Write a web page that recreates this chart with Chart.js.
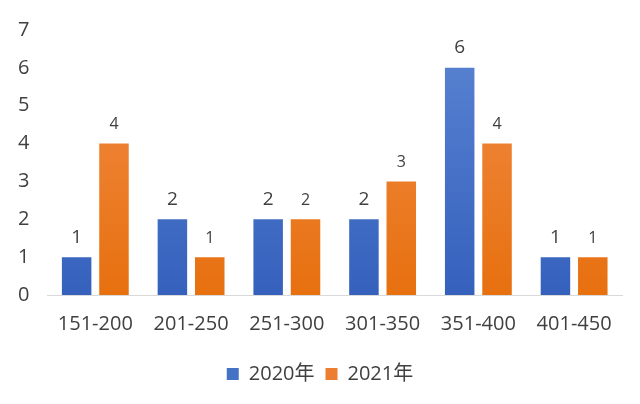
<!DOCTYPE html>
<html>
<head>
<meta charset="utf-8">
<script src="https://cdn.jsdelivr.net/npm/chart.js@4"></script>
<style>
  html, body { margin: 0; padding: 0; background: #fff; }
  #wrap { width: 640px; height: 404px; }
</style>
</head>
<body>
<div id="wrap"><canvas id="chart" width="640" height="404"></canvas></div>
<script>
// values
const categories = ["151-200", "201-250", "251-300", "301-350", "351-400", "401-450"];
const series2020 = [1, 2, 2, 2, 6, 1];
const series2021 = [4, 1, 2, 3, 4, 1];
const yTicks = [0, 1, 2, 3, 4, 5, 6, 7];

const FONT = "'Open Sans', 'Noto Sans CJK SC', sans-serif";
const TEXT = "#404040";

// vertical gradient per bar colour
function grad(top, bottom) {
  return (c) => {
    const area = c.chart.chartArea;
    if (!area) return bottom;
    const g = c.chart.ctx.createLinearGradient(0, area.top, 0, area.bottom);
    g.addColorStop(0, top);
    g.addColorStop(1, bottom);
    return g;
  };
}

// simple value labels above each bar (no datalabels plugin here)
const valueLabels = {
  id: "valueLabels",
  afterLayout(chart) {
    // centre the legend on the whole canvas, not on the padded area
    chart.legend.left += 9;
    chart.legend.right += 9;
  },
  afterDatasetsDraw(chart) {
    const ctx = chart.ctx;
    ctx.save();
    ctx.fillStyle = TEXT;
    ctx.textAlign = "center";
    ctx.textBaseline = "middle";
    chart.data.datasets.forEach((ds, i) => {
      const meta = chart.getDatasetMeta(i);
      ctx.font = (i === 0 ? 19 : 16) + "px " + FONT;
      meta.data.forEach((bar, j) => {
        ctx.fillText(ds.data[j], bar.x, bar.y - (i === 0 ? 20 : 19));
      });
    });
    ctx.restore();
  }
};

new Chart(document.getElementById("chart"), {
  type: "bar",
  data: {
    labels: categories,
    datasets: [
      {
        label: "2020年",
        data: series2020,
        backgroundColor: grad("#5b84d2", "#3561bd"),
        categoryPercentage: 0.78,
        barPercentage: 0.79
      },
      {
        label: "2021年",
        data: series2021,
        backgroundColor: grad("#f28d49", "#e7700f"),
        categoryPercentage: 0.78,
        barPercentage: 0.79
      }
    ]
  },
  options: {
    responsive: false,
    animation: false,
    layout: { padding: { left: 0, right: 18, top: 0, bottom: 10 } },
    plugins: {
      tooltip: { enabled: false },
      legend: {
        position: "bottom",
        labels: {
          color: TEXT,
          font: { family: FONT, size: 20 },
          boxWidth: 12,
          boxHeight: 12,
          padding: 11,
          generateLabels(chart) {
            const cols = ["#4472c4", "#ed7d31"];
            return chart.data.datasets.map((ds, i) => ({
              text: ds.label,
              fillStyle: cols[i],
              strokeStyle: cols[i],
              lineWidth: 0,
              datasetIndex: i,
              fontColor: TEXT
            }));
          }
        }
      }
    },
    scales: {
      x: {
        grid: { display: false, drawTicks: false },
        border: { display: true, color: "#d9d9d9", width: 1 },
        ticks: { color: TEXT, font: { family: FONT, size: 20 }, padding: 17 }
      },
      y: {
        min: 0,
        max: yTicks[yTicks.length - 1],
        afterBuildTicks(axis) { axis.ticks = yTicks.map(v => ({ value: v })); },
        grid: { display: false, drawTicks: false },
        border: { display: false },
        ticks: { color: TEXT, font: { family: FONT, size: 20 }, padding: 18 }
      }
    }
  },
  plugins: [valueLabels]
});
</script>
</body>
</html>
